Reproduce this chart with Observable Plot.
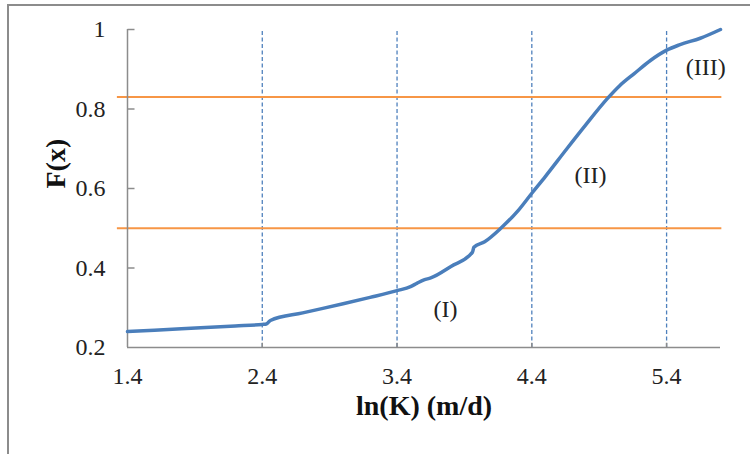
<!DOCTYPE html>
<html>
<head>
<meta charset="utf-8">
<script src="https://cdn.jsdelivr.net/npm/d3@7"></script>
<script src="https://cdn.jsdelivr.net/npm/@observablehq/plot@0.6"></script>
<style>
  html, body { margin: 0; padding: 0; background: #fff; }
  #wrap { position: relative; width: 750px; height: 454px; overflow: hidden; }
  #frame { position: absolute; left: 7px; top: 4px; width: 800px; height: 500px; border: 2px solid #8c8c8c; box-sizing: border-box; }
  #chart { position: absolute; left: 0; top: 0; }
</style>
</head>
<body>
<div id="wrap"><div id="frame"></div><div id="chart"></div></div>
<script>
// Curve: ln(K) vs F(x)
const lnK = [1.4, 1.8, 2.2, 2.4, 2.43, 2.46, 2.7, 3.0, 3.2, 3.4, 3.5, 3.55, 3.6, 3.65, 3.8, 3.96, 3.97, 4.05, 4.17, 4.3, 4.4, 4.5, 4.66, 4.8, 4.96, 5.05, 5.16, 5.28, 5.4, 5.5, 5.65, 5.8];
const Fx  = [0.240, 0.247, 0.254, 0.258, 0.259, 0.268, 0.287, 0.310, 0.326, 0.343, 0.353, 0.362, 0.370, 0.375, 0.404, 0.440, 0.452, 0.466, 0.500, 0.545, 0.588, 0.630, 0.700, 0.760, 0.826, 0.858, 0.889, 0.922, 0.948, 0.962, 0.978, 1.000];
const xTicks = [1.4, 2.4, 3.4, 4.4, 5.4];
const yTicks = [0.2, 0.4, 0.6, 0.8, 1];
const yTickLabels = ["0.2", "0.4", "0.6", "0.8", "1"];
const vLines = [2.4, 3.4, 4.4, 5.4];
const hLines = [0.5, 0.83];
const labels = [{x: 3.76, y: 0.296, t: "(I)"}, {x: 4.835, y: 0.633, t: "(II)"}, {x: 5.69, y: 0.904, t: "(III)"}];

const curve = lnK.map((x, i) => ({x, y: Fx[i]}));
const font = "Liberation Serif, Times New Roman, serif";

const plot = Plot.plot({
  width: 750, height: 454,
  marginLeft: 127, marginRight: 30, marginTop: 29, marginBottom: 107,
  style: {fontFamily: font, background: "transparent"},
  x: {domain: [1.4, 5.8], axis: null},
  y: {domain: [0.2, 1], axis: null},
  marks: [
    Plot.ruleX(vLines, {y1: 0.2, y2: 1, stroke: "#4f81bd", strokeWidth: 1.3, strokeDasharray: "4,2.5"}),
    Plot.ruleY(hLines, {x1: 1.325, x2: 5.81, stroke: "#f79646", strokeWidth: 2}),
    Plot.ruleY([0.2], {x1: 1.4, x2: 5.8, stroke: "#8c8c8c", strokeWidth: 1.5}),
    Plot.ruleX([1.4], {y1: 0.2, y2: 1, stroke: "#8c8c8c", strokeWidth: 1.5}),
    Plot.link(yTicks.slice(1), {x1: 1.4, x2: 1.452, y1: d => d, y2: d => d, stroke: "#8c8c8c", strokeWidth: 1.5}),
    Plot.link(xTicks.slice(1), {x1: d => d, x2: d => d, y1: 0.2, y2: 0.212, stroke: "#8c8c8c", strokeWidth: 1.5}),
    Plot.line(curve, {x: "x", y: "y", stroke: "#4a7ebb", strokeWidth: 3.5, curve: "monotone-x", strokeLinejoin: "round", strokeLinecap: "round"}),
    Plot.text(yTicks, {x: 1.4, y: d => d, text: (d, i) => yTickLabels[i], textAnchor: "end", dx: -22, fontSize: 24, fill: "#222"}),
    Plot.text(xTicks, {x: d => d, y: 0.2, text: d => d.toFixed(1), dy: 29, fontSize: 24, fill: "#222"}),
    Plot.text(labels, {x: "x", y: "y", text: "t", fontSize: 24, fill: "#222"}),
    Plot.text(["ln(K) (m/d)"], {frameAnchor: "bottom", dy: 67, text: d => d, fontSize: 28, fontWeight: "bold", fill: "#111"}),
    Plot.text(["F(x)"], {frameAnchor: "left", dx: -71, text: d => d, fontSize: 28, fontWeight: "bold", rotate: -90, fill: "#111"})
  ]
});
document.getElementById("chart").appendChild(plot);
</script>
</body>
</html>
